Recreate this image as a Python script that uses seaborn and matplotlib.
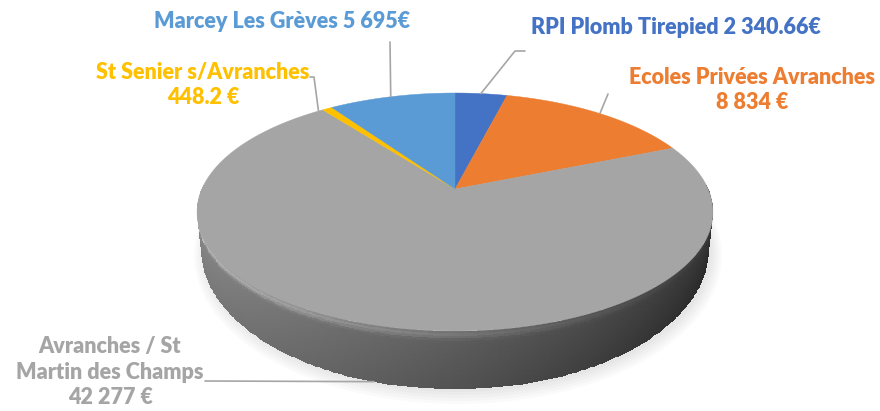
import numpy as np
import seaborn as sns
import matplotlib.pyplot as plt
from matplotlib.patches import Polygon
from matplotlib.colors import to_rgb

# data (clockwise from 12 o'clock)
names = ["RPI Plomb Tirepied", "Ecoles Privées Avranches",
         "Avranches / St\nMartin des Champs", "St Senier s/Avranches",
         "Marcey Les Grèves"]
values = [2340.66, 8834, 42277, 448.2, 5695]
value_labels = ["2 340.66€", "8 834 €", "42 277 €", "448.2 €", "5 695€"]
colors = ["#4472C4", "#ED7D31", "#A5A5A5", "#FFC000", "#5B9BD5"]

sns.set_theme(style="white")
plt.rcParams["font.family"] = ["Lato", "DejaVu Sans"]

# fake 3D perspective of the pie
CX, CY = 455, 189
S, SPHI, CPHI, D, H = 1168, 0.4526, 0.8917, 4.615, 0.227


def thick(t):
    return H * (0.68 - 0.32 * np.sin(t))


def proj(theta, frac=0.0):
    t = np.radians(theta)
    x, y = np.cos(t), np.sin(t)
    z = -frac * thick(t)
    depth = D + y * CPHI - z * SPHI
    return CX + S * x / depth, CY - S * (y * SPHI + z * CPHI) / depth


fig = plt.figure(figsize=(8.8, 4.11), dpi=100)
ax = fig.add_axes([0, 0, 1, 1])
ax.set_xlim(0, 880)
ax.set_ylim(411, 0)
ax.axis("off")

total = sum(values)
spans = [360 * v / total for v in values]
starts = 90 - np.concatenate([[0], np.cumsum(spans)[:-1]])


def slice_of(theta):
    d = (90 - theta) % 360
    return int(np.searchsorted(np.cumsum(spans), d, side="right").clip(0, 4))


# soft shadow
th = np.linspace(0, 360, 361)
for k in range(5):
    bx, by = proj(th, 1.0)
    sx = CX + 3 + (bx - CX) * (1.0 + 0.01 * k)
    sy = CY + 3 + (by - CY) * (1.0 + 0.015 * k)
    ax.add_patch(Polygon(np.c_[sx, sy], closed=True, fc="#000000",
                         ec="none", alpha=0.02))


# side wall, drawn as two meshes from the silhouette towards the front
def side_mesh(thetas):
    fr = np.linspace(0, 1, 25)
    T, F = np.meshgrid(thetas, fr, indexing="ij")
    X, Y = proj(T, F)
    tc = np.radians((thetas[:-1] + thetas[1:]) / 2)
    fc = (fr[:-1] + fr[1:]) / 2
    TC, FC = np.meshgrid(tc, fc, indexing="ij")
    lum = 0.37 - 0.17 * np.cos(TC)
    hl = 0.20 * np.exp(-((FC - 0.06) / 0.07) ** 2) * np.clip(0.5 - 0.5 * np.cos(TC), 0.1, 1)
    b = lum + hl - 0.05 * FC
    base = np.array([to_rgb(colors[slice_of(np.degrees(v) % 360)]) for v in tc])
    rgb = np.clip(base[:, None, :] / 0.647 * b[:, :, None], 0, 1)
    ax.pcolormesh(X, Y, rgb, shading="flat", edgecolors="none",
                  linewidth=0, antialiased=False)


side_mesh(np.linspace(178, 270, 93))
side_mesh(np.linspace(362, 270, 93))

# top face
for st, sp, col in zip(starts, spans, colors):
    arc = np.linspace(st, st - sp, max(int(sp * 2), 3))
    ax_, ay_ = proj(arc)
    pts = np.vstack([[CX, CY], np.c_[ax_, ay_]])
    ax.add_patch(Polygon(pts, closed=True, fc=col, ec=col, lw=0.3))

# labels and leader lines
text_pos = [(676, 28), (752, 90), (110, 372), (203, 85), (282, 22)]
leader_pts = [[(525, 51), (515, 51)], [(608, 94)], [(205, 381)],
              [(310, 77), (314, 77)], [(390, 42)]]
leader_rim = [(83, 0.0), (49, 0.0), (254.5, 1.0), (128.4, 0.0), (107.5, 0.0)]

for i in range(len(values)):
    if "\n" in names[i] or i in (1, 3):
        txt = names[i] + "\n" + value_labels[i]
    else:
        txt = names[i] + " " + value_labels[i]
    ax.text(*text_pos[i], txt, color=colors[i], fontsize=15.5, fontweight="heavy",
            ha="center", va="center", linespacing=1.25)
    rx, ry = proj(*leader_rim[i])
    pts = np.array(leader_pts[i] + [(rx, ry)])
    ax.plot(pts[:, 0], pts[:, 1], color="#A6A6A6", lw=1.2)

fig.savefig("out.png", dpi=100)
